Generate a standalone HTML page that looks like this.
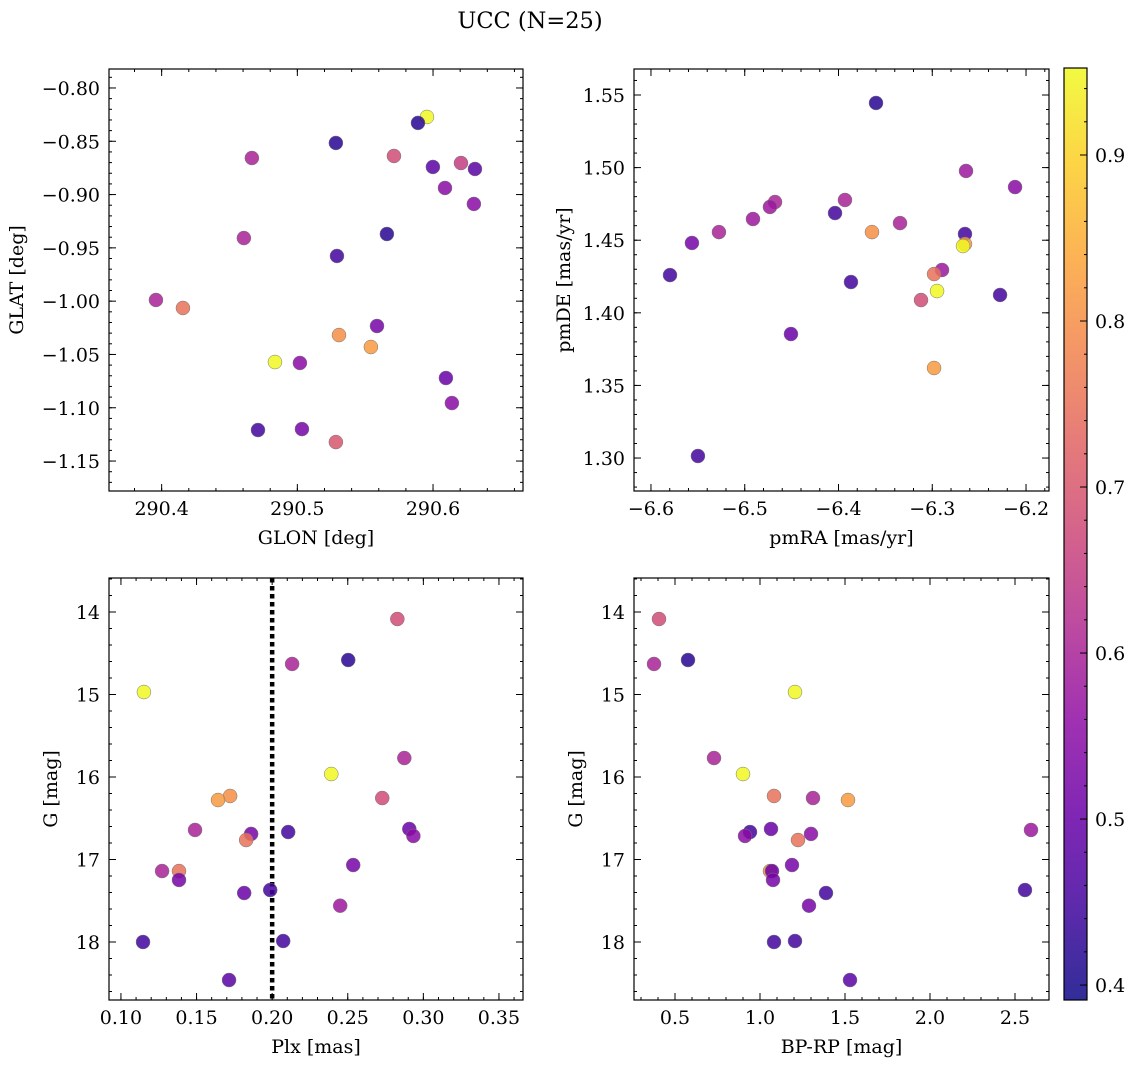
<!DOCTYPE html>
<html><head><meta charset="utf-8"><style>
body{margin:0;background:#fff}
svg text{font-family:"DejaVu Serif","Liberation Serif",serif;fill:#000}
</style></head><body>
<svg id="fig" width="1136" height="1068" viewBox="0 0 1136 1068" xmlns="http://www.w3.org/2000/svg">
<text x="530" y="28" font-size="22.5" text-anchor="middle">UCC (N=25)</text>
</svg>
<script>
// ---- data ----
const glon=[290.5955,290.5889,290.5284,290.5712,290.4665,290.6206,290.5999,290.6309,290.6088,290.6301,290.566,290.4606,290.5292,290.3958,290.4157,290.5587,290.5307,290.5542,290.4835,290.5019,290.6095,290.6139,290.471,290.5034,290.5284];
const glat=[-0.8272,-0.8328,-0.8516,-0.8638,-0.8657,-0.8704,-0.8741,-0.876,-0.8938,-0.9088,-0.937,-0.9408,-0.9576,-0.9989,-1.0064,-1.0233,-1.0318,-1.043,-1.0571,-1.058,-1.0721,-1.0956,-1.1209,-1.12,-1.1322];
const prob1=[0.95,0.42,0.42,0.68,0.6,0.65,0.48,0.48,0.55,0.55,0.42,0.6,0.45,0.6,0.75,0.52,0.8,0.82,0.95,0.55,0.5,0.55,0.45,0.52,0.7];
const pmra=[-6.36,-6.264,-6.2117,-6.4677,-6.4731,-6.3931,-6.4912,-6.4037,-6.3344,-6.5275,-6.3643,-6.5563,-6.2651,-6.2651,-6.2672,-6.5797,-6.2896,-6.2981,-6.3867,-6.2949,-6.2277,-6.312,-6.4507,-6.2981,-6.5499];
const pmde=[1.5445,1.4977,1.4866,1.4763,1.4729,1.4777,1.4646,1.4687,1.4618,1.4556,1.4556,1.4481,1.4543,1.4474,1.446,1.426,1.4295,1.4267,1.4212,1.415,1.4123,1.4088,1.3854,1.362,1.3014];
const prob2=[0.42,0.58,0.55,0.6,0.58,0.6,0.58,0.45,0.6,0.6,0.8,0.52,0.45,0.82,0.95,0.45,0.58,0.75,0.45,0.95,0.45,0.68,0.5,0.82,0.45];
const plx=[0.2828,0.2503,0.2132,0.1152,0.2391,0.2874,0.2728,0.1722,0.1642,0.149,0.2907,0.2934,0.1861,0.2106,0.1828,0.2536,0.1272,0.1384,0.1384,0.1815,0.1987,0.245,0.1146,0.2073,0.1715];
const gmag3=[14.085,14.582,14.63,14.97,15.964,15.77,16.255,16.23,16.279,16.642,16.63,16.715,16.69,16.667,16.764,17.067,17.14,17.14,17.248,17.406,17.37,17.56,18.0,17.988,18.461];
const prob3=[0.68,0.42,0.6,0.95,0.95,0.6,0.68,0.8,0.82,0.6,0.5,0.55,0.52,0.45,0.75,0.52,0.6,0.75,0.52,0.5,0.45,0.58,0.45,0.45,0.48];
const bprp=[0.4059,0.3765,0.5765,1.2059,0.7294,0.9,1.0824,1.3118,1.5176,2.5941,1.0647,0.9412,0.9118,1.3,1.2235,1.1882,1.0588,1.0706,1.0765,1.2882,1.3882,2.5588,1.0824,1.2059,1.5294];
const gmag4=[14.085,14.63,14.582,14.97,15.77,15.964,16.23,16.255,16.279,16.642,16.63,16.667,16.715,16.69,16.764,17.067,17.14,17.14,17.248,17.56,17.406,17.37,18.0,17.988,18.461];
const prob4=[0.68,0.6,0.42,0.95,0.6,0.95,0.75,0.6,0.82,0.58,0.5,0.45,0.55,0.55,0.75,0.52,0.8,0.5,0.52,0.52,0.45,0.45,0.45,0.45,0.48];
const plxLine=[0.2];
const cbTicks=[0.4,0.5,0.6,0.7,0.8,0.9];
const gTicks=[14,15,16,17,18];

const NS="http://www.w3.org/2000/svg",svg=document.getElementById('fig');
function mk(t,a,p){const e=document.createElementNS(NS,t);for(const k in a)e.setAttribute(k,a[k]);(p||svg).appendChild(e);return e;}
const stops=[[0,13,8,135],[.1,65,4,157],[.2,106,0,168],[.3,143,13,164],[.4,177,42,144],[.5,204,71,120],[.6,225,100,98],[.7,242,132,75],[.8,252,166,54],[.9,252,206,37],[1,240,249,33]];
function plasma(t){t=Math.max(0,Math.min(1,t));for(let i=1;i<stops.length;i++){if(t<=stops[i][0]){const a=stops[i-1],b=stops[i],f=(t-a[0])/(b[0]-a[0]);return `rgb(${[1,2,3].map(j=>Math.round(a[j]+(b[j]-a[j])*f)).join(',')})`;}}return 'rgb(240,249,33)';}
const VMIN=0.391,VMAX=0.9524;
function col(v){return plasma((v-VMIN)/(VMAX-VMIN));}
function fmt(v,d){return v.toFixed(d).replace('-','\u2212');}
const FS=19;

function panel(name,box,xr,yr,inv,xt,xmin,yt,ymin,xd,yd,xlab,ylab,yoff,xs,ys,ps,vline){
  const [L,T,R,B]=box;
  const g=mk('g',{});
  const X=v=>L+(v-xr[0])/(xr[1]-xr[0])*(R-L);
  const Y=inv?(v=>T+(v-yr[0])/(yr[1]-yr[0])*(B-T)):(v=>T+(yr[1]-v)/(yr[1]-yr[0])*(B-T));
  vline.forEach(v=>{const l=mk('line',{x1:X(v),y1:T,x2:X(v),y2:B,stroke:'#000','stroke-width':4.5,'stroke-dasharray':'4.5 3.5'},g);
    });
  for(let i=0;i<xs.length;i++){const c=mk('circle',{cx:X(xs[i]),cy:Y(ys[i]),r:7,fill:col(ps[i]),'fill-opacity':0.85,stroke:'#777','stroke-width':0.5},g);
    }
  mk('rect',{x:L,y:T,width:R-L,height:B-T,fill:'none',stroke:'#000','stroke-width':1.2},g);
  const tk=(x1,y1,x2,y2)=>mk('line',{x1,y1,x2,y2,stroke:'#000','stroke-width':1},g);
  for(let v=Math.ceil(xr[0]/xmin-1e-6)*xmin;v<=xr[1];v+=xmin){const x=X(v);tk(x,B,x,B-3);tk(x,T,x,T+3);}
  const y0=Math.min(yr[0],yr[1]),y1=Math.max(yr[0],yr[1]);
  for(let v=Math.ceil(y0/ymin-1e-6)*ymin;v<=y1;v+=ymin){const y=Y(v);tk(L,y,L+3,y);tk(R,y,R-3,y);}
  xt.forEach(v=>{const x=X(v);tk(x,B,x,B-7);tk(x,T,x,T+7);
    const t=mk('text',{x:x,y:B+24,'font-size':FS,'text-anchor':'middle'},g);t.textContent=fmt(v,xd);
    });
  yt.forEach(v=>{const y=Y(v);tk(L,y,L+7,y);tk(R,y,R-7,y);
    const t=mk('text',{x:L-9,y:y+7,'font-size':FS,'text-anchor':'end'},g);t.textContent=fmt(v,yd);
    });
  const xl=mk('text',{x:(L+R)/2,y:B+53,'font-size':FS,'text-anchor':'middle'},g);xl.textContent=xlab;
  
  const yx=L-yoff;
  const yl=mk('text',{x:yx,y:(T+B)/2,'font-size':FS,'text-anchor':'middle',transform:`rotate(-90 ${yx} ${(T+B)/2})`},g);yl.textContent=ylab;
  
}
panel('glon-glat-panel',[109,69,523,491],[290.3612,290.6663],[-1.1781,-0.7822],false,[290.4,290.5,290.6],0.02,[-0.8,-0.85,-0.9,-0.95,-1.0,-1.05,-1.1,-1.15],0.01,1,2,'GLON [deg]','GLAT [deg]',86,glon,glat,prob1,[]);
panel('pm-panel',[634,69,1049,491],[-6.6181,-6.1755],[1.2773,1.5679],false,[-6.6,-6.5,-6.4,-6.3,-6.2],0.02,[1.3,1.35,1.4,1.45,1.5,1.55],0.01,1,2,'pmRA [mas/yr]','pmDE [mas/yr]',64,pmra,pmde,prob2,[]);
panel('plx-g-panel',[109,578,523,1000],[0.0921,0.3659],[13.588,18.703],true,[0.10,0.15,0.20,0.25,0.30,0.35],0.01,gTicks,0.2,2,0,'Plx [mas]','G [mag]',52,plx,gmag3,prob3,plxLine);
panel('cmd-panel',[634,578,1049,1000],[0.2588,2.7],[13.588,18.703],true,[0.5,1.0,1.5,2.0,2.5],0.1,gTicks,0.2,1,0,'BP-RP [mag]','G [mag]',52,bprp,gmag4,prob4,[]);
// colorbar
(function(){
  const L=1064,R=1087,T=68,B=1000;
  const g=mk('g',{});
  const defs=mk('defs',{},g);const gr=mk('linearGradient',{id:'cg',x1:0,y1:1,x2:0,y2:0},defs);
  for(let i=0;i<=20;i++){const t=i/20;mk('stop',{offset:t,'stop-color':plasma(t),'stop-opacity':0.85},gr);}
  mk('rect',{x:L,y:T,width:R-L,height:B-T,fill:'url(#cg)',stroke:'#000','stroke-width':1.2},g);
  const Y=v=>B-(v-VMIN)/(VMAX-VMIN)*(B-T);
  for(let v=0.4;v<=VMAX;v+=0.02){mk('line',{x1:R,y1:Y(v),x2:R-3,y2:Y(v),stroke:'#000'},g);}
  cbTicks.forEach(v=>{mk('line',{x1:R,y1:Y(v),x2:R-7,y2:Y(v),stroke:'#000'},g);
    const t=mk('text',{x:R+8,y:Y(v)+7,'font-size':FS},g);t.textContent=v.toFixed(1);
    });
})();
</script>
</body></html>
